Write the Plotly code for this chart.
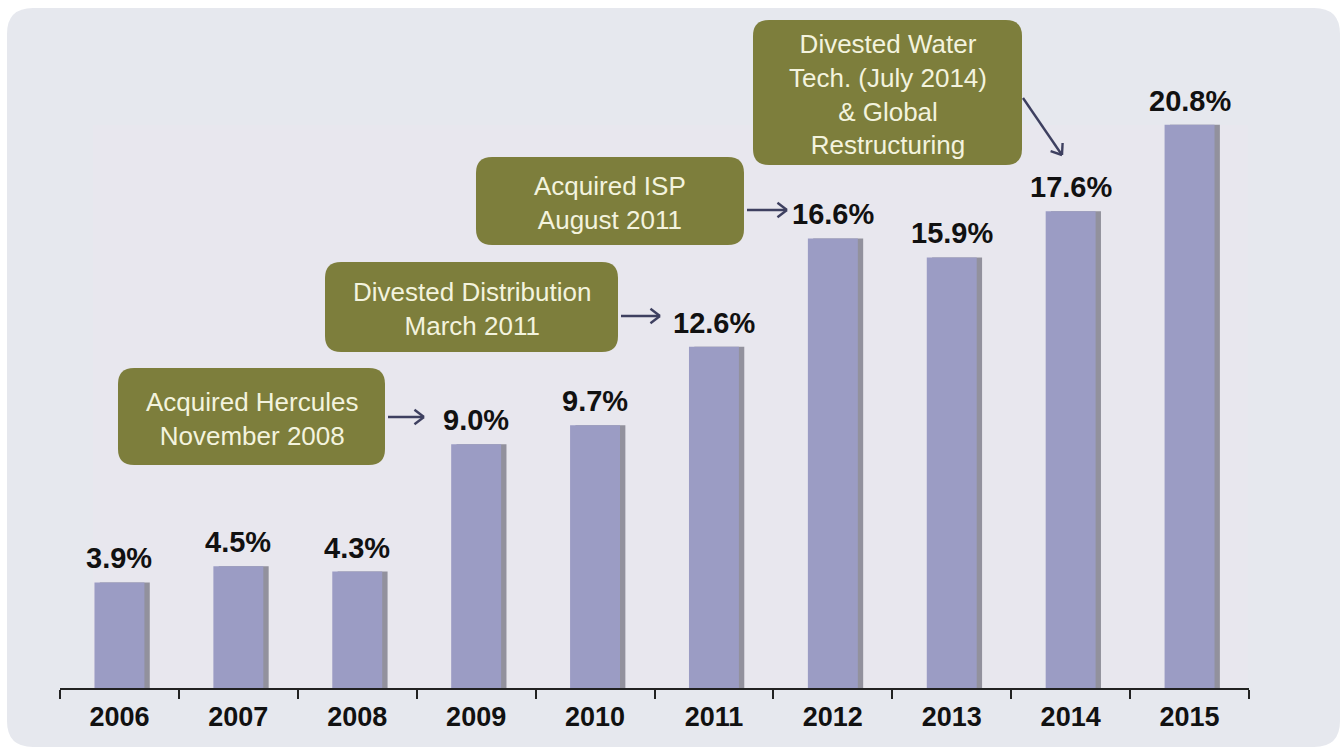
import math
import plotly.graph_objects as go

# ---- data ----
years = ["2006", "2007", "2008", "2009", "2010", "2011", "2012", "2013", "2014", "2015"]
margin_pct = [3.9, 4.5, 4.3, 9.0, 9.7, 12.6, 16.6, 15.9, 17.6, 20.8]
value_labels = [f"{v:.1f}%" for v in margin_pct]

event_texts = [
    "Acquired Hercules<br>November 2008",
    "Divested Distribution<br>March 2011",
    "Acquired ISP<br>August 2011",
    "Divested Water<br>Tech. (July 2014)<br>& Global<br>Restructuring",
]

# ---- layout geometry (pixels) ----
W, H = 1343, 756
L, R, T, B = 60, 94, 38, 68
PW, PH = W - L - R, H - T - B

BAR_COLOR = "#9b9cc4"
BOX_COLOR = "#7d7e3c"
BOX_TEXT = "#f3f3de"
ARROW_COLOR = "#3e4060"
FONT = "Liberation Sans, Arial, sans-serif"


def px(x):
    return (x - L) / PW


def py(y):
    return (T + PH - y) / PH


def rounded_rect(x0, y0, x1, y1, r):
    """SVG path (paper coords) for a rounded rectangle given in pixels."""
    pts = [
        ("M", (x0 + r, y0)),
        ("L", (x1 - r, y0)), ("Q", (x1, y0), (x1, y0 + r)),
        ("L", (x1, y1 - r)), ("Q", (x1, y1), (x1 - r, y1)),
        ("L", (x0 + r, y1)), ("Q", (x0, y1), (x0, y1 - r)),
        ("L", (x0, y0 + r)), ("Q", (x0, y0), (x0 + r, y0)),
    ]
    out = []
    for seg in pts:
        cmd = seg[0]
        coords = " ".join(f"{px(a):.5f},{py(b):.5f}" for a, b in seg[1:])
        out.append(f"{cmd} {coords}")
    return " ".join(out) + " Z"


def arrow_shapes(x0, y0, x1, y1, head=12):
    ang = math.atan2(y1 - y0, x1 - x0)
    shapes = [dict(type="line", xref="paper", yref="paper",
                   x0=px(x0), y0=py(y0), x1=px(x1), y1=py(y1),
                   line=dict(color=ARROW_COLOR, width=2.4))]
    for d in (0.65, -0.65):
        hx = x1 - head * math.cos(ang + d)
        hy = y1 - head * math.sin(ang + d)
        shapes.append(dict(type="line", xref="paper", yref="paper",
                           x0=px(hx), y0=py(hy), x1=px(x1), y1=py(y1),
                           line=dict(color=ARROW_COLOR, width=2.4)))
    return shapes


fig = go.Figure()

# soft shadow on the right side of each bar
fig.add_trace(go.Bar(
    x=years, y=margin_pct, width=0.42, offset=-0.165,
    marker=dict(color="rgba(60,60,75,0.5)", line=dict(width=0)),
    hoverinfo="skip", showlegend=False,
))
fig.add_trace(go.Bar(
    x=years, y=margin_pct, width=0.42, offset=-0.21,
    marker=dict(color=BAR_COLOR, line=dict(width=0)),
    showlegend=False,
))

shapes = []
# panel background
shapes.append(dict(type="path", xref="paper", yref="paper", layer="below",
                   path=rounded_rect(7, 8, 1340, 747, 26),
                   fillcolor="#e6e8ee", line=dict(width=0)))
shapes.append(dict(type="rect", xref="paper", yref="paper", layer="below",
                   x0=px(93), y0=py(125), x1=px(1248), y1=py(688),
                   fillcolor="#e8e7ee", line=dict(width=0)))

# event call-out boxes (pixel extents) and their arrows
boxes = [
    (118, 368, 385, 465),
    (325, 262, 618, 352),
    (476, 157, 744, 245),
    (753, 20, 1022, 165),
]
arrows = [
    (388, 417, 424, 417),
    (621, 316, 660, 316),
    (747, 210, 787, 210),
    (1023, 98, 1062, 155),
]
for (x0, y0, x1, y1) in boxes:
    shapes.append(dict(type="path", xref="paper", yref="paper",
                       path=rounded_rect(x0, y0, x1, y1, 16),
                       fillcolor=BOX_COLOR, line=dict(width=0)))
for a in arrows:
    shapes.extend(arrow_shapes(*a))

annotations = []
for (x0, y0, x1, y1), txt in zip(boxes, event_texts):
    annotations.append(dict(
        xref="paper", yref="paper", x=px((x0 + x1) / 2), y=py((y0 + y1) / 2 + 2),
        text=txt, showarrow=False, xanchor="center", yanchor="middle",
        font=dict(family=FONT, size=26, color=BOX_TEXT),
    ))

# value labels above the bars (category axis positions are serial indices)
for i, (v, lab) in enumerate(zip(margin_pct, value_labels)):
    annotations.append(dict(
        x=i, y=v, xref="x", yref="y", text=f"<b>{lab}</b>", showarrow=False,
        xanchor="center", yanchor="bottom", yshift=6,
        font=dict(family=FONT, size=29, color="#111111"),
    ))

fig.update_layout(
    width=W, height=H,
    margin=dict(l=L, r=R, t=T, b=B),
    paper_bgcolor="white", plot_bgcolor="rgba(0,0,0,0)",
    barmode="overlay",
    shapes=shapes, annotations=annotations,
    xaxis=dict(
        type="category", showgrid=False, zeroline=False,
        showline=True, linecolor="#222222", linewidth=2,
        ticks="outside", tickson="boundaries", ticklen=9, tickwidth=2,
        tickcolor="#222222", ticklabelstandoff=4,
        tickfont=dict(family=FONT, size=27, color="#111111"),
        tickprefix="<b>", ticksuffix="</b>",
        range=[-0.5, 9.5], fixedrange=True,
    ),
    yaxis=dict(visible=False, range=[0, 24], fixedrange=True),
    showlegend=False,
)

fig.write_html("out.html")
